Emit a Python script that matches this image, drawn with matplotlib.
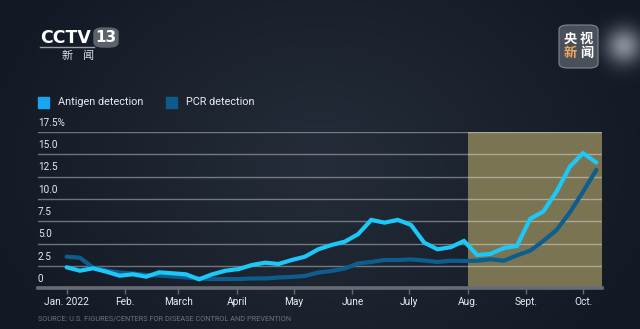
import matplotlib
matplotlib.use("Agg")
import matplotlib.pyplot as plt
import matplotlib.dates as mdates
from matplotlib.patches import FancyBboxPatch
import numpy as np
import pandas as pd

# weekly share of positive tests, %
weeks = pd.date_range("2022-01-01", periods=41, freq="7D")
antigen = [2.35, 1.97, 2.24, 1.86, 1.41, 1.57, 1.30, 1.79, 1.68, 1.57,
           1.01, 1.57, 1.97, 2.16, 2.61, 2.87, 2.72, 3.17, 3.54, 4.37,
           4.85, 5.22, 6.05, 7.66, 7.35, 7.66, 7.10, 5.11, 4.37, 4.60,
           5.30, 3.73, 3.85, 4.50, 4.74, 7.77, 8.61, 10.83, 13.63, 15.13,
           14.08]
pcr = [3.54, 3.43, 2.31, 2.00, 1.77, 1.66, 1.49, 1.43, 1.32, 1.21,
       1.10, 1.04, 1.04, 1.04, 1.10, 1.10, 1.21, 1.27, 1.38, 1.77,
       1.94, 2.22, 2.78, 2.95, 3.17, 3.17, 3.23, 3.12, 2.95, 3.09,
       3.06, 3.09, 3.25, 3.09, 3.68, 4.22, 5.30, 6.54, 8.50, 10.83,
       13.26]
month_ticks = pd.to_datetime(["2022-01-01", "2022-02-01", "2022-03-01", "2022-04-01",
                              "2022-05-01", "2022-06-01", "2022-07-01", "2022-08-01",
                              "2022-09-01", "2022-10-01"])
month_labels = ["Jan. 2022", "Feb.", "March", "April", "May", "June", "July",
                "Aug.", "Sept.", "Oct."]
y_ticks = [0, 2.5, 5.0, 7.5, 10.0, 12.5, 15.0, 17.5]
y_labels = ["0", "2.5", "5.0", "7.5", "10.0", "12.5", "15.0", "17.5%"]
highlight_start = pd.Timestamp("2022-08-01")

ANTIGEN_C = "#1cc8f7"
PCR_C = "#0d5e8e"
FONT = ["Liberation Sans Narrow", "Roboto", "DejaVu Sans"]
CJK = ["Noto Sans CJK SC", "DejaVu Sans"]
W, H = 640, 329

fig = plt.figure(figsize=(6.4, 3.29), dpi=100)

# dark vignette background with a soft glow at the top right
bg = fig.add_axes([0, 0, 1, 1])
px, py = np.meshgrid(np.linspace(0, W, 320), np.linspace(0, H, 165))
d = np.clip(np.sqrt(((px - W / 2) / W * 1.8) ** 2 + ((py - H / 2) / H * 1.2) ** 2), 0, 1)
c0 = np.array([0x25, 0x2d, 0x3a]) / 255
c1 = np.array([0x12, 0x19, 0x24]) / 255
img = c0[None, None, :] * (1 - d[..., None]) + c1[None, None, :] * d[..., None]
glow = np.exp(-(((px - 625) / 18) ** 2 + ((py - 45) / 18) ** 2)) * 0.45
img = np.clip(img + glow[..., None], 0, 1)
bg.imshow(img, aspect="auto", extent=[0, 1, 0, 1], interpolation="bilinear")
bg.set_xlim(0, 1)
bg.set_ylim(0, 1)
bg.axis("off")

ax = fig.add_axes([0.0589, 0.1237, 0.8812, 0.4751])
ax.patch.set_alpha(0)
xmin = mdates.date2num(pd.Timestamp("2022-01-01")) - 15.3
xmax = mdates.date2num(pd.Timestamp("2022-01-01")) + 282.8
ax.set_xlim(xmin, xmax)
ax.set_ylim(0, 17.5)

ax.axvspan(highlight_start, mdates.num2date(xmax), ymin=0, ymax=1,
           color="#7a7453", lw=0, zorder=0)
for v in y_ticks[1:]:
    ax.axhline(v, color="white", alpha=0.38, lw=1.0, zorder=1)
ax.axhline(0, color="#676c74", lw=2.6, zorder=4, clip_on=False)

ax.plot(weeks, pcr, color=PCR_C, lw=3.0, solid_capstyle="round",
        solid_joinstyle="miter", zorder=3)
ax.plot(weeks, antigen, color=ANTIGEN_C, lw=3.0, solid_capstyle="round",
        solid_joinstyle="miter", zorder=3)

for s in ax.spines.values():
    s.set_visible(False)
ax.set_yticks([])
ax.set_xticks(month_ticks)
ax.set_xticklabels(month_labels, family=FONT, fontsize=7.3, color="#e8ecf0")
ax.tick_params(axis="x", length=4, width=1, color="#676c74", pad=2.5)

for v, lab in zip(y_ticks, y_labels):
    ax.annotate(lab, xy=(0, v), xycoords=("axes fraction", "data"),
                xytext=(0, 3), textcoords="offset points", ha="left", va="bottom",
                family=FONT, fontsize=7.2, color="#e8ecf0")

# legend
fig.patches.append(plt.Rectangle((38 / W, 1 - 108 / H), 11 / W, 10.5 / H,
                                 transform=fig.transFigure, color="#1aa6ee", figure=fig))
fig.text(58 / W, 1 - 102 / H, "Antigen detection", family=FONT, fontsize=7.8,
         color="#e8ecf0", va="center")
fig.patches.append(plt.Rectangle((166 / W, 1 - 108 / H), 11 / W, 10.5 / H,
                                 transform=fig.transFigure, color="#0f5a8c", figure=fig))
fig.text(186 / W, 1 - 102 / H, "PCR detection", family=FONT, fontsize=7.8,
         color="#e8ecf0", va="center")

fig.text(38 / W, 1 - 319 / H,
         "SOURCE: U.S. FIGURES/CENTERS FOR DISEASE CONTROL AND PREVENTION",
         family=FONT, fontsize=5.3, color="#6c7480", va="center")

# CCTV 13 logo
fig.text(40 / W, 1 - 38 / H, "CCTV", family="DejaVu Sans", fontsize=12.5,
         weight="bold", color="white", va="center")
fig.patches.append(FancyBboxPatch((94 / W, 1 - 47 / H), 24 / W, 19 / H,
                                  boxstyle="round,pad=0,rounding_size=0.014",
                                  transform=fig.transFigure, color="#5d636c", figure=fig))
fig.text(106 / W, 1 - 37.5 / H, "13", family="DejaVu Sans", fontsize=11, weight="bold",
         color="white", ha="center", va="center")
fig.lines.append(plt.Line2D([40 / W, 94 / W], [1 - 47 / H, 1 - 47 / H],
                            transform=fig.transFigure, color="#9aa0a8", lw=1, figure=fig))
fig.text(66.7 / W, 1 - 55.5 / H, "新", family=CJK, fontsize=8, color="#e0e4ea",
         ha="center", va="center")
fig.text(88.3 / W, 1 - 55.5 / H, "闻", family=CJK, fontsize=8, color="#e0e4ea",
         ha="center", va="center")

# 央视新闻 badge
fig.patches.append(FancyBboxPatch((559 / W, 1 - 68 / H), 39 / W, 43 / H,
                                  boxstyle="round,pad=0,rounding_size=0.014",
                                  transform=fig.transFigure, facecolor="#4a5059",
                                  edgecolor="#80868f", lw=0.8, figure=fig))
for ch, x, y, col in [("央", 570.5, 38.5, "white"), ("视", 586.5, 38.5, "white"),
                      ("新", 570.5, 52.5, "#f0a860"), ("闻", 586.5, 52.5, "white")]:
    fig.text(x / W, 1 - y / H, ch, family=CJK, fontsize=9.5, weight="bold",
             color=col, ha="center", va="center")

fig.savefig("out.png", dpi=100, facecolor="#1a212c")
